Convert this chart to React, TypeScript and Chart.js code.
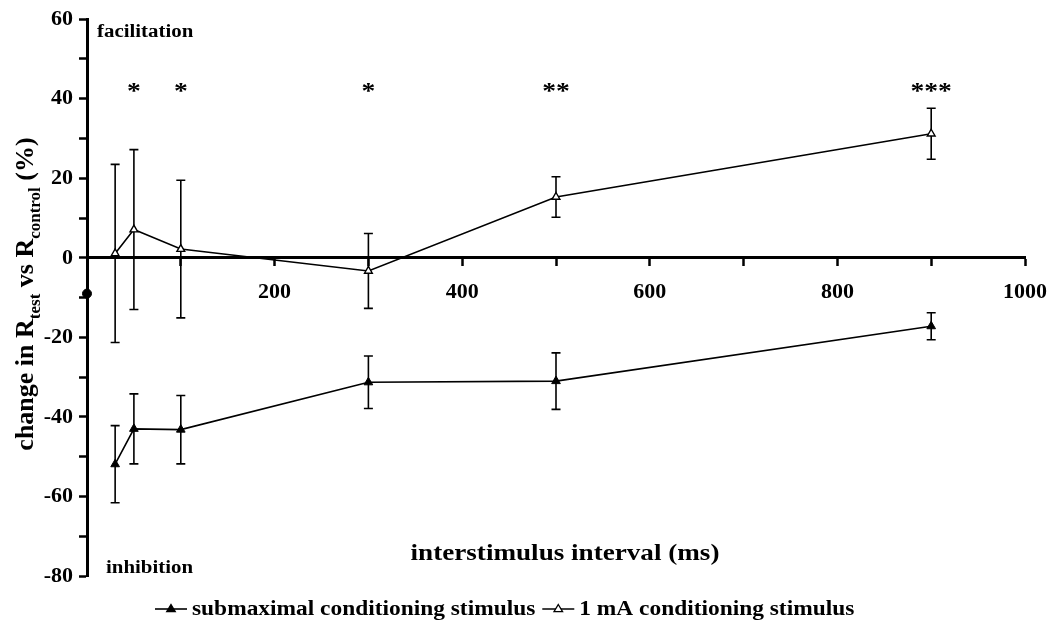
import React, { useEffect, useRef } from "react";
import { Chart, registerables } from "chart.js";

Chart.register(...registerables);

// ---- data ----
const intervals = [30, 50, 100, 300, 500, 900];
const submaximalMean = [-51.9, -43.0, -43.2, -31.3, -31.0, -17.2];
const submaximalErr = [9.7, 8.8, 8.6, 6.6, 7.1, 3.4];
const oneMaMean = [1.1, 7.1, 2.2, -3.3, 15.3, 31.2];
const oneMaErr = [22.4, 20.1, 17.3, 9.4, 5.1, 6.4];
const significance = ["", "*", "*", "*", "**", "***"];
const significanceLevel = 42.5;
const axisMarkX = [0];
const axisMarkY = [-9];
const xMin = 0;
const xMax = 1000;
const xStep = 100;
const xLabelStep = 200;
const yMin = -80;
const yMax = 60;
const yStep = 10;
const yLabelStep = 20;
const seriesLabels = ["submaximal conditioning stimulus", "1 mA conditioning stimulus"];
const xTitle = "interstimulus interval (ms)";
const topNote = "facilitation";
const bottomNote = "inhibition";

const FONT = "'Liberation Serif', 'Times New Roman', serif";

function stretchedText(
  ctx: CanvasRenderingContext2D,
  text: string,
  x: number,
  y: number,
  font: string,
  sx: number,
  align: "left" | "center" | "right"
): number {
  ctx.save();
  ctx.font = font;
  const w = ctx.measureText(text).width * sx;
  let left = x;
  if (align === "center") left = x - w / 2;
  else if (align === "right") left = x - w;
  ctx.translate(left, y);
  ctx.scale(sx, 1);
  ctx.textAlign = "left";
  ctx.textBaseline = "alphabetic";
  ctx.fillStyle = "#000";
  ctx.fillText(text, 0, 0);
  ctx.restore();
  return w;
}

function triangle(ctx: CanvasRenderingContext2D, cx: number, cy: number, r: number, filled: boolean) {
  ctx.save();
  ctx.beginPath();
  ctx.moveTo(cx, cy - r);
  ctx.lineTo(cx + r * 0.95, cy + r * 0.6);
  ctx.lineTo(cx - r * 0.95, cy + r * 0.6);
  ctx.closePath();
  ctx.fillStyle = filled ? "#000" : "#fff";
  ctx.fill();
  ctx.lineWidth = 1.3;
  ctx.strokeStyle = "#000";
  ctx.stroke();
  ctx.restore();
}

const errorBarPlugin = {
  id: "errorBars",
  beforeDatasetsDraw(chart: any) {
    const ctx: CanvasRenderingContext2D = chart.ctx;
    const ys = chart.scales.y;
    const sets = [
      { mean: submaximalMean, err: submaximalErr },
      { mean: oneMaMean, err: oneMaErr },
    ];
    ctx.save();
    ctx.strokeStyle = "#000";
    ctx.lineWidth = 1.6;
    sets.forEach((s, di) => {
      const meta = chart.getDatasetMeta(di);
      meta.data.forEach((pt: any, j: number) => {
        const x = pt.x;
        const top = ys.getPixelForValue(s.mean[j] + s.err[j]);
        const bot = ys.getPixelForValue(s.mean[j] - s.err[j]);
        ctx.beginPath();
        ctx.moveTo(x, top);
        ctx.lineTo(x, bot);
        ctx.moveTo(x - 4.5, top);
        ctx.lineTo(x + 4.5, top);
        ctx.moveTo(x - 4.5, bot);
        ctx.lineTo(x + 4.5, bot);
        ctx.stroke();
      });
    });
    ctx.restore();
  },
};

const annotationPlugin = {
  id: "annotations",
  afterDraw(chart: any) {
    const ctx: CanvasRenderingContext2D = chart.ctx;
    const xs = chart.scales.x;
    const ys = chart.scales.y;
    const ca = chart.chartArea;
    const sx = 1.15;

    // facilitation / inhibition notes
    stretchedText(ctx, topNote, ca.left + 10, ca.top + 18, `bold 18px ${FONT}`, 1.16, "left");
    stretchedText(ctx, bottomNote, ca.left + 19, ca.bottom - 3, `bold 18px ${FONT}`, 1.16, "left");

    // significance asterisks
    intervals.forEach((v, i) => {
      if (!significance[i]) return;
      const x = xs.getPixelForValue(v);
      const y = ys.getPixelForValue(significanceLevel) + 9;
      stretchedText(ctx, significance[i], x, y, `bold 24px ${FONT}`, sx, "center");
    });

    // x axis title
    stretchedText(ctx, xTitle, 565, 560, `bold 24px ${FONT}`, 1.13, "center");

    // y axis title with subscripts
    const parts: Array<[string, boolean]> = [
      ["change in R", false],
      ["test", true],
      [" vs R", false],
      ["control", true],
      [" (%)", false],
    ];
    const mainFont = `bold 26px ${FONT}`;
    const subFont = `bold 17px ${FONT}`;
    ctx.save();
    let total = 0;
    parts.forEach(([t, sub]) => {
      ctx.font = sub ? subFont : mainFont;
      total += ctx.measureText(t).width;
    });
    ctx.translate(33, 294);
    ctx.rotate(-Math.PI / 2);
    ctx.fillStyle = "#000";
    ctx.textAlign = "left";
    ctx.textBaseline = "alphabetic";
    let cx = -total / 2;
    parts.forEach(([t, sub]) => {
      ctx.font = sub ? subFont : mainFont;
      ctx.fillText(t, cx, sub ? 7 : 0);
      cx += ctx.measureText(t).width;
    });
    ctx.restore();

    // legend
    const base = 615;
    const midY = base - 6;
    const lf = `bold 20px ${FONT}`;
    let lx = 155;
    [0, 1].forEach((i) => {
      ctx.save();
      ctx.strokeStyle = "#000";
      ctx.lineWidth = 1.6;
      ctx.beginPath();
      ctx.moveTo(lx, midY);
      ctx.lineTo(lx + 32, midY);
      ctx.stroke();
      ctx.restore();
      triangle(ctx, lx + 16, midY, 4.5, i === 0);
      const w = stretchedText(ctx, seriesLabels[i], lx + 37, base, lf, 1.17, "left");
      lx = lx + 37 + w + 7;
    });
  },
};

export default function App() {
  const canvasRef = useRef<HTMLCanvasElement | null>(null);

  useEffect(() => {
    const canvas = canvasRef.current;
    if (!canvas) return;
    const tickFont = { family: FONT, size: 22, weight: "bold" as const };
    const chart = new Chart(canvas, {
      type: "line",
      data: {
        datasets: [
          {
            label: seriesLabels[0],
            data: intervals.map((x, i) => ({ x, y: submaximalMean[i] })),
            borderColor: "#000",
            borderWidth: 1.6,
            pointStyle: "triangle",
            pointRadius: 5,
            pointBackgroundColor: "#000",
            pointBorderColor: "#000",
            pointBorderWidth: 1,
            tension: 0,
            fill: false,
          },
          {
            label: seriesLabels[1],
            data: intervals.map((x, i) => ({ x, y: oneMaMean[i] })),
            borderColor: "#000",
            borderWidth: 1.6,
            pointStyle: "triangle",
            pointRadius: 4.5,
            pointBackgroundColor: "#fff",
            pointBorderColor: "#000",
            pointBorderWidth: 1.4,
            tension: 0,
            fill: false,
          },
          {
            label: "axis mark",
            data: axisMarkX.map((x, i) => ({ x, y: axisMarkY[i] })),
            showLine: false,
            pointStyle: "circle",
            pointRadius: 4.5,
            pointBackgroundColor: "#000",
            pointBorderColor: "#000",
            clip: false as any,
          },
        ],
      },
      options: {
        responsive: false,
        animation: false,
        layout: { padding: { left: 0, top: 16, right: 30, bottom: 52 } },
        plugins: {
          legend: { display: false },
          tooltip: { enabled: false },
          title: { display: false },
        },
        scales: {
          x: {
            type: "linear",
            min: xMin,
            max: xMax,
            position: { y: 0 } as any,
            afterFit: (s: any) => {
              s.height = 0;
            },
            grid: {
              display: true,
              drawOnChartArea: false,
              drawTicks: true,
              tickLength: 7,
              tickWidth: 2.5,
              tickColor: "#000",
            },
            border: { display: true, width: 3, color: "#000" },
            ticks: {
              stepSize: xStep,
              autoSkip: false,
              maxRotation: 0,
              padding: 14,
              color: "#000",
              font: tickFont,
              callback: (v: any) => (Number(v) % xLabelStep === 0 && Number(v) !== 0 ? String(v) : ""),
            },
          },
          y: {
            type: "linear",
            min: yMin,
            max: yMax,
            position: "left",
            afterFit: (s: any) => {
              s.width = 87;
            },
            grid: {
              display: true,
              drawOnChartArea: false,
              drawTicks: true,
              tickLength: 8,
              tickWidth: 2.5,
              tickColor: "#000",
            },
            border: { display: true, width: 3, color: "#000" },
            ticks: {
              stepSize: yStep,
              autoSkip: false,
              padding: 6,
              color: "#000",
              font: tickFont,
              callback: (v: any) => (Number(v) % yLabelStep === 0 ? String(v) : ""),
            },
          },
        },
      },
      plugins: [errorBarPlugin, annotationPlugin],
    });
    return () => chart.destroy();
  }, []);

  return (
    <div style={{ position: "absolute", left: 0, top: 0, width: 1061, height: 628, background: "#fff" }}>
      <canvas ref={canvasRef} width={1061} height={628} style={{ display: "block" }} />
    </div>
  );
}
